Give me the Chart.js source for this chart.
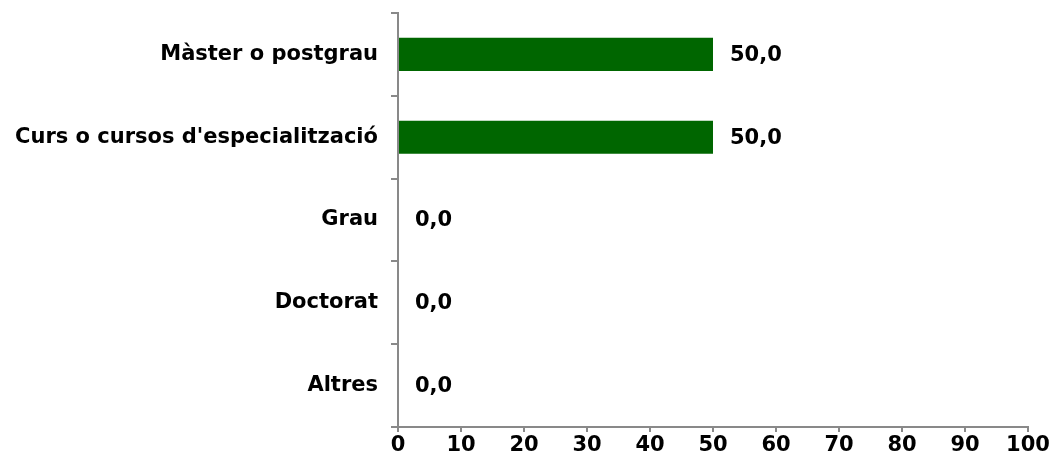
<!DOCTYPE html>
<html>
<head>
<meta charset="utf-8">
<script src="https://cdn.jsdelivr.net/npm/chart.js@4/dist/chart.umd.min.js"></script>
<style>
html,body{margin:0;padding:0;background:#fff;}
#wrap{width:1053px;height:465px;position:relative;}
</style>
</head>
<body>
<div id="wrap"><canvas id="c" width="1053" height="465"></canvas></div>
<script>
const categories = ["Màster o postgrau", "Curs o cursos d'especialització", "Grau", "Doctorat", "Altres"];
const values = [50.0, 50.0, 0.0, 0.0, 0.0];
const xTicks = [0, 10, 20, 30, 40, 50, 60, 70, 80, 90, 100];

const FONT = "'DejaVu Sans', Verdana, sans-serif";
const FS = 21;
const fmt = v => v.toFixed(1).replace('.', ',');

const valueLabels = {
  id: 'valueLabels',
  afterDatasetsDraw(chart) {
    const ctx = chart.ctx;
    const meta = chart.getDatasetMeta(0);
    ctx.save();
    ctx.font = "bold " + FS + "px " + FONT;
    ctx.fillStyle = '#000';
    ctx.textAlign = 'left';
    ctx.textBaseline = 'middle';
    meta.data.forEach((el, i) => {
      ctx.fillText(fmt(values[i]), el.x + 17, el.y + 1);
    });
    ctx.restore();
  }
};

new Chart(document.getElementById('c'), {
  type: 'bar',
  data: {
    labels: categories,
    datasets: [{
      data: values,
      backgroundColor: '#006600',
      borderWidth: 0,
      categoryPercentage: 0.4,
      barPercentage: 1.0
    }]
  },
  options: {
    indexAxis: 'y',
    responsive: false,
    animation: false,
    devicePixelRatio: 1,
    layout: { padding: { left: 0, right: 25, top: 13, bottom: 0 } },
    plugins: { legend: { display: false }, tooltip: { enabled: false } },
    scales: {
      x: {
        min: 0, max: 100,
        afterBuildTicks: s => { s.ticks = xTicks.map(v => ({ value: v })); },
        grid: { drawOnChartArea: false, drawTicks: true, tickLength: 5, color: '#898989', lineWidth: 2 },
        border: { color: '#898989', width: 2 },
        ticks: { color: '#000', font: { family: FONT, size: FS, weight: 'bold' }, padding: 1, maxRotation: 0, autoSkip: false },
        afterFit: s => { s.height = 38; s.paddingLeft = 0; s.paddingRight = 0; }
      },
      y: {
        offset: true,
        grid: { drawOnChartArea: false, drawTicks: true, tickLength: 7, color: '#898989', lineWidth: 2, offset: true },
        border: { color: '#898989', width: 2 },
        ticks: { color: '#000', font: { family: FONT, size: FS, weight: 'bold' }, padding: 13, autoSkip: false },
        afterFit: s => { s.width = 398; s.paddingTop = 0; s.paddingBottom = 0; }
      }
    }
  },
  plugins: [valueLabels]
});
</script>
</body>
</html>
